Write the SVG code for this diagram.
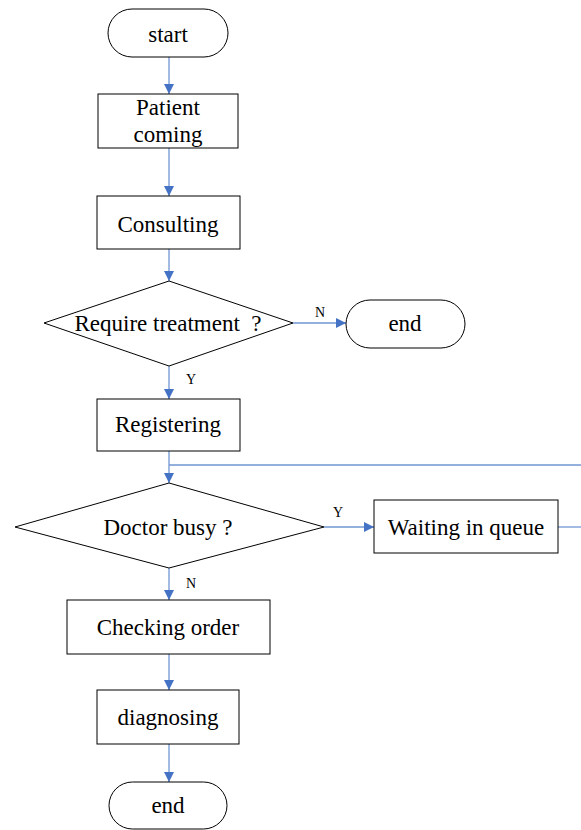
<svg xmlns="http://www.w3.org/2000/svg" width="581" height="830" viewBox="0 0 581 830">
<style>
.n{fill:#fff;stroke:#000;stroke-width:1}
.t{font-family:"Liberation Serif","Times New Roman",serif;font-size:23px;fill:#000;text-anchor:middle;white-space:pre}
.l{font-family:"Liberation Serif","Times New Roman",serif;font-size:14px;fill:#000;text-anchor:middle}
.c{fill:none;stroke:#7097D3;stroke-width:1.3}
</style>
<defs>
<marker id="a" markerWidth="10" markerHeight="10" refX="10" refY="5" orient="auto" markerUnits="userSpaceOnUse">
<path d="M0,0 L10,5 L0,10 Z" fill="#4472C4"/>
</marker>
</defs>
<rect width="581" height="830" fill="#fff"/>
<g id="connectors">
<line class="c" x1="169" y1="57" x2="169" y2="94" marker-end="url(#a)"/>
<line class="c" x1="169" y1="148" x2="169" y2="196" marker-end="url(#a)"/>
<line class="c" x1="169" y1="249" x2="169" y2="281" marker-end="url(#a)"/>
<line class="c" x1="293" y1="323" x2="346" y2="323" marker-end="url(#a)"/>
<line class="c" x1="169" y1="366" x2="169" y2="399" marker-end="url(#a)"/>
<line class="c" x1="169" y1="451" x2="169" y2="483" marker-end="url(#a)"/>
<line class="c" x1="169" y1="465" x2="581" y2="465"/>
<line class="c" x1="324" y1="527" x2="374" y2="527" marker-end="url(#a)"/>
<line class="c" x1="558" y1="527" x2="581" y2="527"/>
<line class="c" x1="169" y1="568" x2="169" y2="600" marker-end="url(#a)"/>
<line class="c" x1="169" y1="654" x2="169" y2="690" marker-end="url(#a)"/>
<line class="c" x1="169" y1="744" x2="169" y2="782" marker-end="url(#a)"/>
<text class="l" x="320" y="317">N</text>
<text class="l" x="191" y="384">Y</text>
<text class="l" x="338" y="517">Y</text>
<text class="l" x="191" y="588">N</text>
</g>
<g id="start">
<rect class="n" x="108" y="9" width="120" height="48" rx="24"/>
<text class="t" x="168" y="42">start</text>
</g>
<g id="patient">
<rect class="n" x="98" y="94" width="140" height="54"/>
<text class="t" x="168" y="115">Patient</text>
<text class="t" x="168" y="142">coming</text>
</g>
<g id="consulting">
<rect class="n" x="97" y="196" width="143" height="53"/>
<text class="t" x="168" y="232">Consulting</text>
</g>
<g id="require">
<polygon class="n" points="169,281 293,323 169,366 44,323"/>
<text class="t" x="168" y="331">Require treatment  ?</text>
</g>
<g id="end1">
<rect class="n" x="346" y="300" width="119" height="48" rx="24"/>
<text class="t" x="405" y="331">end</text>
</g>
<g id="registering">
<rect class="n" x="97" y="399" width="143" height="52"/>
<text class="t" x="168" y="432">Registering</text>
</g>
<g id="busy">
<polygon class="n" points="169,483 324,527 169,568 15,527"/>
<text class="t" x="168" y="535">Doctor busy ?</text>
</g>
<g id="waiting">
<rect class="n" x="374" y="500" width="184" height="53"/>
<text class="t" x="466" y="535">Waiting in queue</text>
</g>
<g id="checking">
<rect class="n" x="67" y="600" width="203" height="54"/>
<text class="t" x="168" y="635">Checking order</text>
</g>
<g id="diagnosing">
<rect class="n" x="97" y="690" width="142" height="54"/>
<text class="t" x="168" y="725">diagnosing</text>
</g>
<g id="end2">
<rect class="n" x="109" y="782" width="118" height="47" rx="23.5"/>
<text class="t" x="168" y="813">end</text>
</g>
</svg>
